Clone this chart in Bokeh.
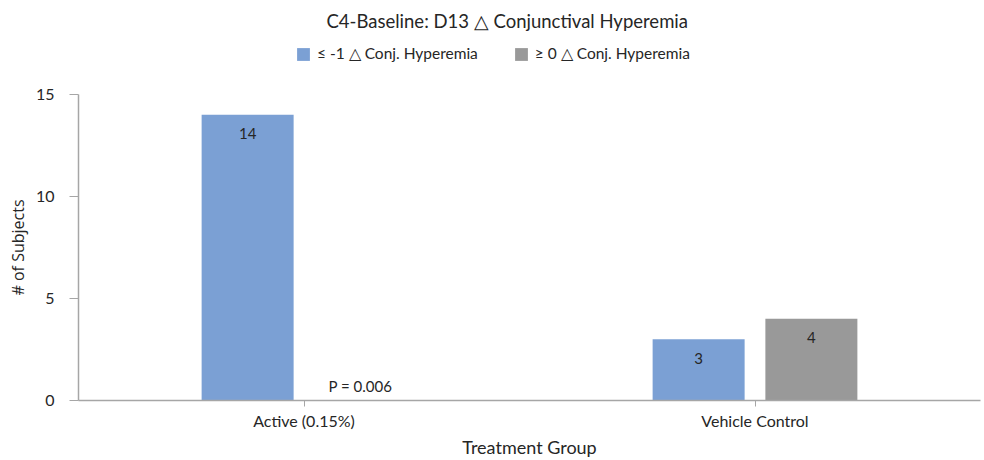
from bokeh.plotting import figure
from bokeh.models import FactorRange, ColumnDataSource, Legend, LegendItem, Range1d, FixedTicker, Title
from bokeh.transform import dodge
from bokeh.core.properties import value
from bokeh.embed import file_html
from bokeh.resources import INLINE

groups = ["Active (0.15%)", "Vehicle Control"]
improved = [14, 3]
not_improved = [0, 4]
improved_labels = ["14", "3"]
not_improved_labels = ["P = 0.006", "4"]
y_ticks = [0, 5, 10, 15]

FONT = "Lato"
BLUE = "#7ba0d4"
GRAY = "#999999"
AXIS = "#a6a6a6"
TXT = "#262626"

src = ColumnDataSource(dict(g=groups, a=improved, b=not_improved,
                            la=improved_labels,
                            lb=[l if v > 0 else "" for l, v in zip(not_improved_labels, not_improved)],
                            lp=[l if v == 0 else "" for l, v in zip(not_improved_labels, not_improved)]))

# y range extends above 15 to leave room for the legend inside the frame; axis bounded to 0..15
p = figure(x_range=FactorRange(*groups), y_range=Range1d(0, 17.73),
           width=984, height=460, output_backend="svg", toolbar_location=None,
           min_border_left=77, min_border_right=4, min_border_top=36, min_border_bottom=60)
p.outline_line_color = None
p.xgrid.grid_line_color = None
p.ygrid.grid_line_color = None

OFF = 0.125
r1 = p.vbar(x=dodge("g", -OFF, range=p.x_range), top="a", width=0.204, source=src,
            fill_color=BLUE, line_color=None)
r2 = p.vbar(x=dodge("g", OFF, range=p.x_range), top="b", width=0.204, source=src,
            fill_color=GRAY, line_color=None)

p.text(x=dodge("g", -OFF, range=p.x_range), y="a", text="la", source=src,
       text_align="center", text_baseline="middle", y_offset=19,
       text_font=value(FONT), text_font_size="15px", text_color=TXT)
p.text(x=dodge("g", OFF, range=p.x_range), y="b", text="lb", source=src,
       text_align="center", text_baseline="middle", y_offset=19,
       text_font=value(FONT), text_font_size="15px", text_color=TXT)
p.text(x=dodge("g", OFF, range=p.x_range), y="b", text="lp", source=src,
       text_align="center", text_baseline="middle", y_offset=-15,
       text_font=value(FONT), text_font_size="15px", text_color=TXT)

p.title.text = "C4-Baseline: D13 \u25b3 Conjunctival Hyperemia"
p.title.align = "left"
p.title.offset = 248
p.title.standoff = 14
p.title.text_font = FONT
p.title.text_font_style = "normal"
p.title.text_font_size = "18.5px"
p.title.text_color = TXT

legend = Legend(items=[LegendItem(label="\u2264 -1 \u25b3 Conj. Hyperemia", renderers=[r1]),
                       LegendItem(label="\u2265 0 \u25b3 Conj. Hyperemia", renderers=[r2])],
                orientation="horizontal", location=(217, 337),
                glyph_width=16, glyph_height=16, label_height=16, label_standoff=6,
                spacing=35, padding=0, margin=0,
                label_text_font=FONT, label_text_font_size="15.5px", label_text_color=TXT,
                border_line_color=None, background_fill_alpha=0)
p.add_layout(legend, "center")

for ax in (p.xaxis[0], p.yaxis[0]):
    ax.axis_line_color = AXIS
    ax.axis_line_width = 1.5
    ax.major_tick_line_color = AXIS
    ax.major_tick_in = 0
    ax.minor_tick_line_color = None
    ax.major_label_text_font = FONT
    ax.major_label_text_font_size = "16px"
    ax.major_label_text_color = TXT
    ax.axis_label_text_font = FONT
    ax.axis_label_text_font_style = "normal"
    ax.axis_label_text_color = TXT

p.yaxis.ticker = FixedTicker(ticks=y_ticks)
p.yaxis.bounds = (0, 15)
p.yaxis.major_tick_out = 9
p.yaxis.major_label_standoff = 15

# y-axis title, positioned along the 0..15 part of the axis
ytitle = Title(text="# of Subjects", align="left", offset=105, standoff=8,
               text_font="Open Sans", text_font_size="16px", text_font_style="normal",
               text_color=TXT)
p.add_layout(ytitle, "left")

p.xaxis.major_tick_out = 6
p.xaxis.major_label_standoff = 4
p.xaxis.axis_label = "Treatment Group"
p.xaxis.axis_label_text_font_size = "18px"
p.xaxis.axis_label_standoff = 3

open("out.html", "w").write(file_html(p, INLINE))
